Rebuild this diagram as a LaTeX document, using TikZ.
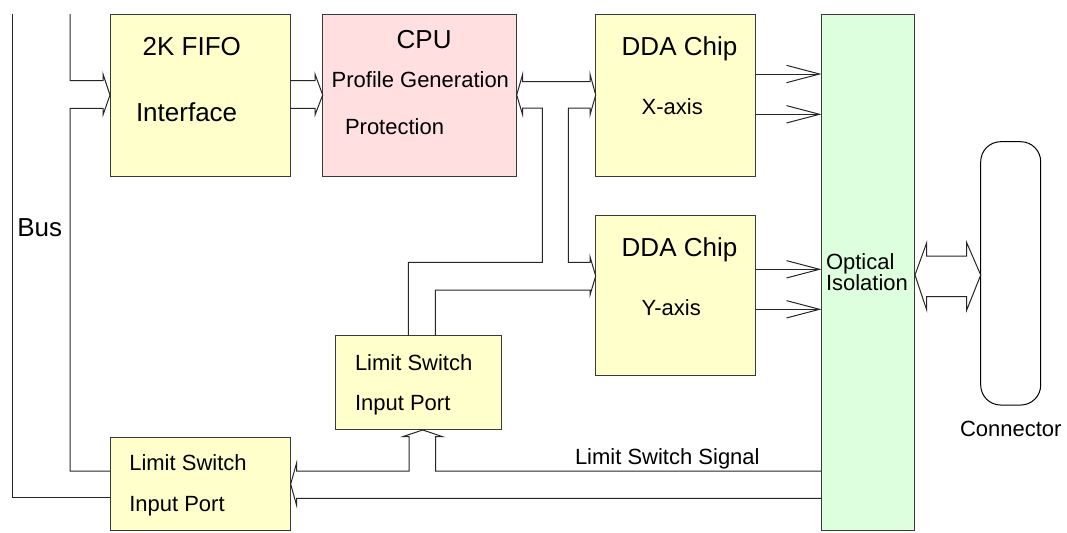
\documentclass[tikz,border=0pt]{standalone}
\usepackage{fontspec}
\setmainfont{Liberation Sans}
\usetikzlibrary{arrows.meta,calc}
\definecolor{boxY}{HTML}{FFFFCC}
\definecolor{boxP}{HTML}{FFDFE0}
\definecolor{boxG}{HTML}{DDFFDD}
\definecolor{edgeC}{HTML}{3A3A3A}
\tikzset{
  blk/.style={draw=edgeC, line width=0.75pt, anchor=north west, inner sep=0pt, outer sep=0pt},
  lbl/.style={anchor=base west, inner sep=0pt, outer sep=0pt, font=\fontsize{16.5pt}{16.5pt}\selectfont},
  big/.style={lbl, font=\fontsize{19.5pt}{19.5pt}\selectfont},
  wire/.style={draw=black!85, line width=0.75pt, line join=miter},
  sig/.style={wire, -{Straight Barb[length=24.75pt,width=13pt]}},
}
\begin{document}
\begin{tikzpicture}[x=0.75pt,y=-0.75pt]
\useasboundingbox (0,0) rectangle (1067,532);
% blocks
\node[blk, fill=boxY, minimum width=135pt, minimum height=121.5pt] (fifo) at (110,14) {};
\node[blk, fill=boxP, minimum width=145.5pt, minimum height=121.5pt] (cpu) at (322.7,14) {};
\node[blk, fill=boxY, minimum width=120pt, minimum height=121.5pt] (ddax) at (595.7,14) {};
\node[blk, fill=boxY, minimum width=120pt, minimum height=120.2pt] (dday) at (595.7,215.7) {};
\node[blk, fill=boxG, minimum width=70.1pt, minimum height=387.5pt] (opt) at (821.5,14) {};
\node[blk, fill=boxY, minimum width=124.5pt, minimum height=70.7pt] (ls1) at (335.7,335.7) {};
\node[blk, fill=boxY, minimum width=135.5pt, minimum height=70.2pt] (ls2) at (110,437.3) {};
\node[blk, draw=black, rounded corners=15pt, minimum width=45pt, minimum height=197.5pt] (conn) at (980.7,141.7) {};
% texts
\node[big] (tfifo1) at (142.7,55) {2K FIFO};
\node[big] (tfifo2) at (136,121.7) {Interface};
\node[big] (tcpu1) at (396.7,48.3) {CPU};
\node[lbl] (tcpu2) at (331.7,87.7) {Profile Generation};
\node[lbl] (tcpu3) at (345,134.3) {Protection};
\node[big] (tddax1) at (621.7,55) {DDA Chip};
\node[lbl] (tddax2) at (641.7,114.3) {X-axis};
\node[big] (tdday1) at (621.7,256) {DDA Chip};
\node[lbl] (tdday2) at (641.7,315) {Y-axis};
\node[lbl] (tls1a) at (355,370) {Limit Switch};
\node[lbl] (tls1b) at (355,410) {Input Port};
\node[lbl] (tls2a) at (129.3,470.7) {Limit Switch};
\node[lbl] (tls2b) at (129.3,511.7) {Input Port};
\node[lbl] (tsig) at (575,464) {Limit Switch Signal};
\node[big] (tbus) at (17.3,236.7) {Bus};
\node[lbl] (topt1) at (826,269) {Optical};
\node[lbl] (topt2) at (826,290.7) {Isolation};
\node[lbl] (tconn) at (960,436.7) {Connector};
% bus lines
\coordinate (busA) at (12,14);
\coordinate (busB) at (70,14);
\draw[wire] (busA) -- (12,497.5) -- (ls2.west |- 0,497.5);
\draw[wire] (busB) -- (70,80.7) -- (103,80.7) -- (103,74) -- (fifo.west) -- (103,115)
  -- (103,108.3) -- (70,108.3) -- (70,471) -- (ls2.west |- 0,471);
% FIFO -> CPU
\draw[wire] (fifo.east |- 0,80.7) -- (315,80.7) -- (315,74) -- (cpu.west) -- (315,115)
  -- (315,108.3) -- (fifo.east |- 0,108.3);
% CPU <-> DDA X, branches to DDA Y and limit switch port
\draw[wire] (ls1.north -| 408.3,0) -- (408.3,262.3) -- (542.3,262.3) -- (542.3,108)
  -- (522.7,108) -- (522.7,115) -- (cpu.east) -- (522.7,74) -- (522.7,81.7)
  -- (590,81.7) -- (590,74) -- (ddax.west) -- (590,115) -- (590,108)
  -- (568.3,108) -- (568.3,262.3) -- (590,262.3) -- (590,256.7)
  -- ($(dday.north west)+(0,60.3)$) -- (590,295) -- (590,290)
  -- (435.3,290) -- (ls1.north -| 435.3,0);
% limit switch signals
\draw[wire] (opt.west |- 0,471) -- (435.7,471) -- (435.7,436.7) -- (442.7,436.7)
  -- ($(ls1.south)+(4,0)$) -- (402.7,436.7) -- (409,436.7) -- (409,471)
  -- (296.5,471) -- (296.5,463.3) -- (ls2.east) -- (296.5,505) -- (296.5,498.3)
  -- (opt.west |- 0,498.3);
% DDA outputs
\draw[sig] (ddax.east |- 0,74) -- (opt.west |- 0,74);
\draw[sig] (ddax.east |- 0,114.3) -- (opt.west |- 0,114.3);
\draw[sig] (dday.east |- 0,269.3) -- (opt.west |- 0,269.3);
\draw[sig] (dday.east |- 0,309.3) -- (opt.west |- 0,309.3);
% optical isolation <-> connector
\draw[wire] (opt.east |- 0,275) -- (926.7,242.7) -- (926.7,256) -- (966.7,256)
  -- (966.7,242.7) -- (conn.west |- 0,275) -- (966.7,310) -- (966.7,296.7)
  -- (926.7,296.7) -- (926.7,310) -- cycle;
\end{tikzpicture}
\end{document}
